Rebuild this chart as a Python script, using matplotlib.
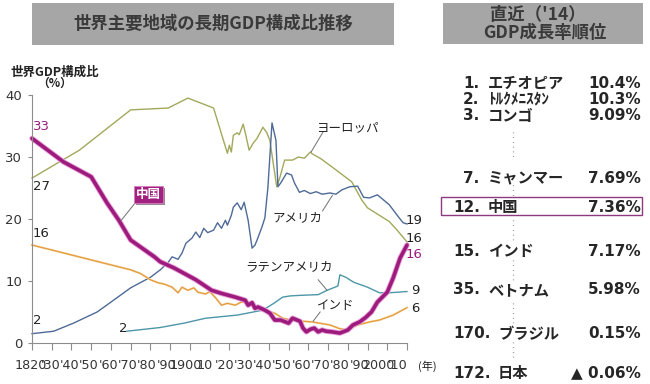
import matplotlib
matplotlib.use("Agg")
import matplotlib.pyplot as plt
from matplotlib.patches import Rectangle

plt.rcParams['font.family'] = ['DejaVu Sans', 'Noto Sans CJK JP']
JP = ['Noto Sans CJK JP', 'DejaVu Sans']
NUM = ['DejaVu Sans', 'Noto Sans CJK JP']

# ---------------- data ----------------
years_eu = [1820, 1844, 1870, 1889, 1899, 1912, 1919, 1920, 1921, 1922, 1924, 1925, 1927, 1928,
            1930, 1932, 1934, 1937, 1939, 1940.5, 1944, 1945.5, 1948, 1952, 1955, 1958, 1961,
            1962, 1966, 1972, 1982, 1987, 1990, 1996, 2001, 2005, 2010]
vals_eu = [26.6, 31.1, 37.6, 37.9, 39.5, 37.9, 30.6, 31.9, 30.8, 33.5, 33.9, 33.6, 35.3, 34.0,
           31.1, 32.2, 33.0, 34.8, 33.9, 32.7, 25.2, 26.6, 29.5, 29.5, 30.0, 29.8, 30.8,
           30.5, 29.8, 28.4, 26.0, 23.1, 21.8, 20.6, 19.6, 18.2, 16.3]

years_us = [1820, 1831, 1841, 1853, 1860, 1870, 1880, 1885, 1889, 1891, 1894, 1896, 1898, 1901,
            1903, 1905, 1907, 1909, 1912, 1914, 1916, 1918, 1919, 1921, 1922, 1924, 1926, 1927.5,
            1929.5, 1931.5, 1933, 1934.5, 1936.5, 1938, 1939.5, 1941.6, 1943.6, 1944.6, 1946,
            1949, 1951.5, 1953, 1955.5, 1958, 1961, 1964, 1967, 1971, 1974, 1977, 1981, 1985,
            1988, 1991, 1995, 2001, 2006, 2008, 2010]
vals_us = [1.5, 1.9, 3.2, 5.0, 6.6, 8.9, 10.6, 11.8, 13.0, 13.9, 13.5, 14.5, 16.1, 16.9,
           17.9, 17.0, 18.5, 17.8, 18.2, 19.4, 18.5, 19.8, 19.0, 20.6, 21.9, 22.6, 21.5, 22.7,
           19.8, 15.3, 15.8, 17.0, 18.7, 20.2, 25.0, 35.5, 32.7, 25.2, 25.8,
           27.4, 27.1, 25.8, 24.3, 24.6, 24.1, 24.4, 24.0, 24.2, 24.0, 24.7, 25.2, 25.3,
           23.5, 23.4, 23.9, 22.3, 20.2, 19.4, 19.2]

years_cn = [1820, 1836, 1850, 1858, 1864, 1870, 1882, 1885, 1892, 1903, 1911, 1916, 1923, 1928,
            1929.5, 1931.5, 1933, 1934.5, 1938, 1940.6, 1943, 1946, 1950, 1952, 1955.8, 1957.3,
            1959, 1961, 1963, 1965, 1967, 1969, 1972, 1976, 1980, 1982.6, 1986, 1989, 1992,
            1995, 2000, 2003, 2006.5, 2010]
vals_cn = [33.0, 29.2, 26.8, 22.6, 19.8, 16.6, 13.9, 13.1, 12.1, 10.2, 8.5, 8.0, 7.4, 6.9,
           6.1, 6.5, 5.6, 5.8, 5.3, 4.8, 3.7, 3.7, 3.2, 4.0, 3.5, 2.4,
           1.8, 2.2, 2.4, 1.8, 2.1, 1.9, 1.8, 1.6, 2.1, 2.9, 3.4, 4.1, 5.0,
           6.6, 8.2, 10.5, 13.7, 15.8]

years_in = [1820, 1870, 1875, 1880, 1884, 1887, 1891, 1894, 1896, 1899, 1902, 1904, 1908, 1910,
            1913, 1916, 1919, 1923, 1926, 1930, 1933, 1938, 1943, 1947, 1953, 1962, 1971, 1976,
            1980, 1985, 1991, 1996, 2003, 2010]
vals_in = [15.8, 11.8, 11.2, 10.2, 9.7, 9.5, 9.0, 8.1, 9.0, 8.5, 8.9, 8.2, 7.9, 8.3,
           7.3, 6.1, 6.4, 6.1, 6.6, 6.5, 6.0, 5.3, 4.8, 4.0, 3.6, 3.4, 2.9, 2.3,
           2.1, 2.9, 3.4, 3.7, 4.5, 5.7]

years_la = [1868, 1885, 1897, 1908, 1924, 1937, 1943, 1947, 1951, 1957, 1965, 1969.5, 1973.5,
            1975, 1976, 1979, 1983, 1990, 1996, 2001, 2010]
vals_la = [1.9, 2.5, 3.2, 4.0, 4.5, 5.3, 6.5, 7.4, 7.6, 7.7, 7.8, 8.5, 9.0,
           9.2, 11.0, 10.6, 9.8, 9.0, 8.1, 8.1, 8.3]

xtick_years = list(range(1820, 2011, 10))
xtick_labels = ["1820", "'30", "'40", "'50", "'60", "'70", "'80", "'90", "1900", "10",
                "'20", "'30", "'40", "'50", "'60", "'70", "'80", "'90", "2000", "'10"]
yticks = [0, 10, 20, 30, 40]

rank_nums = ['1.', '2.', '3.', '7.', '12.', '15.', '35.', '170.', '172.']
rank_names = ['エチオピア', 'ﾄﾙｸﾒﾆｽﾀﾝ', 'コンゴ', 'ミャンマー', '中国', 'インド', 'ベトナム', 'ブラジル', '日本']
rank_vals = ['10.4%', '10.3%', '9.09%', '7.69%', '7.36%', '7.17%', '5.98%', '0.15%', '▲ 0.06%']

# ---------------- figure ----------------
W, H = 650, 384
fig = plt.figure(figsize=(6.5, 3.84), dpi=100)
fig.patch.set_facecolor('white')

def fx(x):
    return x / W

def fy(y):
    return 1 - y / H

ax = fig.add_axes([fx(32), fy(343), 375 / W, 248 / H])
ax.set_xlim(1820, 2010)
ax.set_ylim(0, 40)
for s in ['top', 'right']:
    ax.spines[s].set_visible(False)
for s in ['left', 'bottom']:
    ax.spines[s].set_color('#8c8c8c')
    ax.spines[s].set_linewidth(0.8)
ax.set_xticks(xtick_years)
ax.set_xticklabels([])
ax.set_yticks(yticks)
ax.set_yticklabels([str(v) for v in yticks], fontsize=9.5, color='#333333', family=NUM)
ax.tick_params(axis='x', direction='out', length=5, width=0.8, color='#8c8c8c')
ax.tick_params(axis='y', direction='out', length=3, width=0.8, color='#8c8c8c', pad=4)

# x labels: placed slightly tighter than the ticks, as in the reference
lab_step = (2005.4 - 1819.5) / (len(xtick_labels) - 1)
for i, lab in enumerate(xtick_labels):
    ax.text(1819.5 + i * lab_step, -0.092, lab, transform=ax.get_xaxis_transform(),
            fontsize=9.2, color='#333333', family=NUM, ha='center', va='center')

c_eu = '#A3A85B'
c_us = '#4E6A97'
c_la = '#4C96A8'
c_in = '#E39B3B'
c_cn = '#9C1B7D'

ax.plot(years_eu, vals_eu, color=c_eu, lw=1.0, clip_on=False)
ax.plot(years_us, vals_us, color=c_us, lw=1.0, clip_on=False)
ax.plot(years_la, vals_la, color=c_la, lw=1.0, clip_on=False)
ax.plot(years_in, vals_in, color='#F8DDB5', lw=1.6, clip_on=False)
ax.plot(years_in, vals_in, color=c_in, lw=0.9, clip_on=False)
ax.plot(years_cn, vals_cn, color='#E9A0D8', lw=3.9, clip_on=False, solid_capstyle='round')
ax.plot(years_cn, vals_cn, color=c_cn, lw=2.6, clip_on=False, solid_capstyle='round')

# start / end value labels
ax.text(1820.3, 35.0, '33', color=c_cn, fontsize=9.5, va='center', ha='left', family=NUM)
ax.text(1820.3, 25.2, '27', color='#222222', fontsize=9.5, va='center', ha='left', family=NUM)
ax.text(1820.5, 17.7, '16', color='#222222', fontsize=9.5, va='center', ha='left', family=NUM)
ax.text(1820.5, 3.6, '2', color='#222222', fontsize=9.5, va='center', ha='left', family=NUM)
ax.text(1864, 2.3, '2', color='#222222', fontsize=9.5, va='center', ha='left', family=NUM)
ax.text(2009.5, 19.7, '19', color='#222222', fontsize=9.5, va='center', ha='left', family=NUM)
ax.text(2009.5, 16.9, '16', color='#222222', fontsize=9.5, va='center', ha='left', family=NUM)
ax.text(2009.5, 14.2, '16', color=c_cn, fontsize=9.5, va='center', ha='left', family=NUM)
ax.text(2012.3, 8.4, '9', color='#222222', fontsize=9.5, va='center', ha='left', family=NUM)
ax.text(2012.3, 5.6, '6', color='#222222', fontsize=9.5, va='center', ha='left', family=NUM)

# annotations with leader lines
lc = '#6f6f6f'
ax.text(1963.9, 34.8, 'ヨーロッパ', fontsize=9, va='center', ha='left', family=JP, color='#222222')
ax.plot([1967.4, 1961.4], [34.0, 30.8], color=lc, lw=0.7, clip_on=False)
ax.text(1942, 20.2, 'アメリカ', fontsize=9, va='center', ha='left', family=JP, color='#222222')
ax.plot([1967.2, 1972.2], [21.3, 23.8], color=lc, lw=0.7, clip_on=False)
ax.text(1928, 12.4, 'ラテンアメリカ', fontsize=9, va='center', ha='left', family=JP, color='#222222')
ax.plot([1965, 1969.5], [10.2, 8.5], color=lc, lw=0.7, clip_on=False)
ax.text(1964.4, 6.0, 'インド', fontsize=9, va='center', ha='left', family=JP, color='#222222')
ax.plot([1966, 1962.4], [5.0, 3.5], color=lc, lw=0.7, clip_on=False)

# China label box
ax.add_patch(Rectangle((1872.7, 22.2), 14.6, 2.8, facecolor='#6b5a66', edgecolor='none',
                       alpha=0.7, clip_on=False, zorder=4))
ax.add_patch(Rectangle((1871.7, 22.6), 14.6, 2.8, facecolor='#A2217F', edgecolor='#D77CC0',
                       lw=0.6, clip_on=False, zorder=5))
ax.text(1879.0, 24.0, '中国', fontsize=9, color='white', fontweight='bold', family=JP,
        ha='center', va='center', zorder=6)
ax.plot([1872.3, 1865.0], [22.6, 19.7], color=lc, lw=0.7, clip_on=False)

# y label and unit
fig.text(fx(55), fy(72), '世界GDP構成比', fontsize=9, fontweight='bold', family=JP,
         ha='center', va='center', color='#222222')
fig.text(fx(55), fy(83.5), '（%）', fontsize=8.5, fontweight='bold', family=JP,
         ha='center', va='center', color='#222222')
fig.text(fx(418), fy(366), '(年)', fontsize=8, family=JP, ha='left', va='center', color='#222222')

# Title boxes
fig.patches.append(Rectangle((fx(32), fy(45)), 362 / W, 42 / H, transform=fig.transFigure,
                             facecolor='#A6A6A6', edgecolor='none'))
fig.text(fx(213), fy(24), '世界主要地域の長期GDP構成比推移', fontsize=12.5, fontweight='bold',
         family=JP, ha='center', va='center', color='#3a3a3a')
fig.patches.append(Rectangle((fx(443), fy(44)), 200 / W, 41 / H, transform=fig.transFigure,
                             facecolor='#A6A6A6', edgecolor='none'))
fig.text(fx(538), fy(14.5), '直近（\'14）', fontsize=12.5, fontweight='bold',
         family=JP, ha='center', va='center', color='#3a3a3a')
fig.text(fx(545), fy(33.5), 'GDP成長率順位', fontsize=12.5, fontweight='bold',
         family=JP, ha='center', va='center', color='#3a3a3a')

# ranking rows
row_y = [83, 99.5, 116, 178, 207, 251, 290, 334, 373]
num_x = [463, 463, 463, 463, 453, 453, 453, 453, 453]
name_x = [488, 488, 488, 488, 488, 488, 488, 498, 498]
for n, nm, v, y, nx, mx in zip(rank_nums, rank_names, rank_vals, row_y, num_x, name_x):
    fig.text(fx(nx), fy(y), n, fontsize=11, fontweight='bold', family=NUM,
             ha='left', va='center', color='#262626')
    fig.text(fx(mx), fy(y), nm, fontsize=11, fontweight='bold', family=JP,
             ha='left', va='center', color='#262626')
    fig.text(fx(641), fy(y), v, fontsize=11, fontweight='bold', family=NUM,
             ha='right', va='center', color='#262626')

# China highlight box
fig.patches.append(Rectangle((fx(441), fy(215)), 201 / W, 18 / H, transform=fig.transFigure,
                             facecolor='none', edgecolor='#8E3A80', lw=1.0))

# dotted separators
for y0, y1 in [(132, 158), (185, 197), (220, 243), (260, 282), (303, 323), (342, 360)]:
    fig.add_artist(plt.Line2D([fx(513), fx(513)], [fy(y0), fy(y1)], transform=fig.transFigure,
                              color='#777777', lw=0.9, linestyle=(0, (0.6, 3.2))))

fig.savefig('out.png', dpi=100)
